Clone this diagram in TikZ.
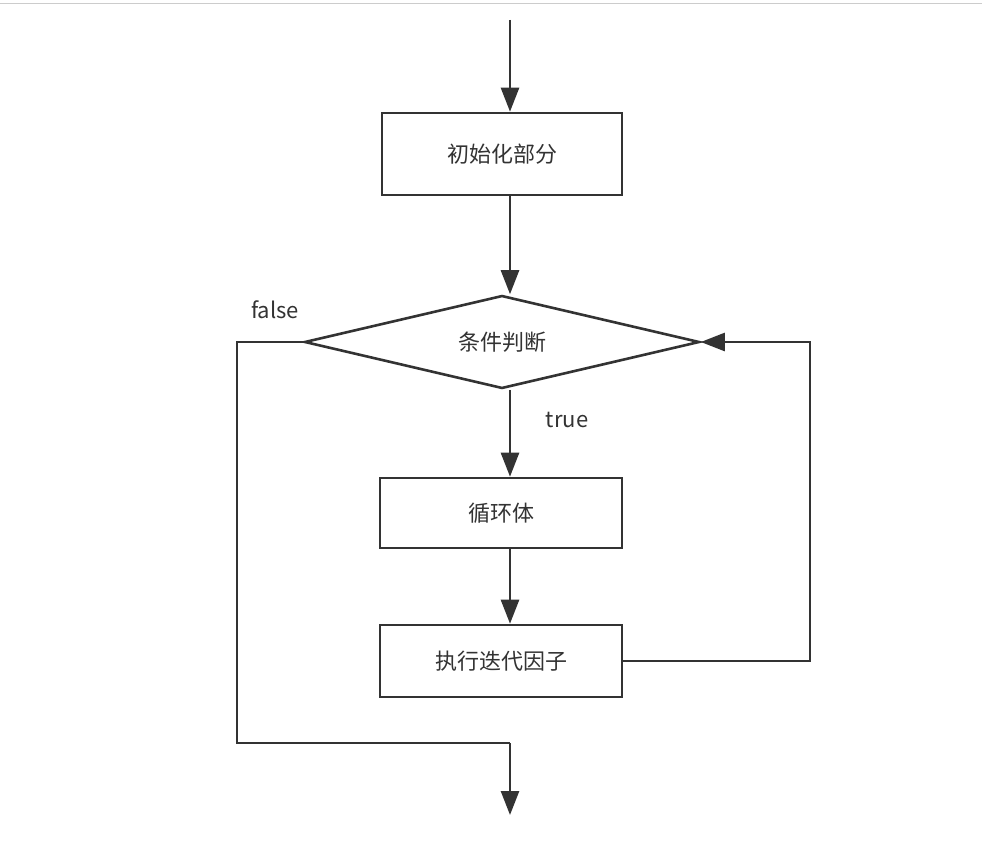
\documentclass[tikz,border=0pt]{standalone}
\usepackage{fontspec}
\setmainfont{Noto Sans CJK SC}
\usetikzlibrary{arrows.meta,shapes.geometric}
\begin{document}
\begin{tikzpicture}[x=1pt,y=-1pt,
  line width=2.6pt, color={black!80},
  arr/.style={-{Triangle[length=24pt,width=18pt]}},
  box/.style={draw,minimum width=240pt,minimum height=76pt,font=\fontsize{22}{26}\selectfont,inner sep=0pt},
  lbl/.style={font=\fontsize{22}{26}\selectfont}]
\useasboundingbox (0,0) rectangle (982,851);
\fill[white] (0,0) rectangle (982,851);
\draw[line width=1pt,black!20] (0,4) -- (982,4);
\coordinate (top) at (510,20);
\node[box,minimum height=82pt] (init) at (502,154) {初始化部分};
\node[draw,diamond,aspect=4.25,minimum width=395pt,minimum height=93pt,inner sep=0pt,font=\fontsize{22}{26}\selectfont] (cond) at (502,342) {条件判断};
\node[box,minimum width=242pt,minimum height=70pt] (body) at (501,513) {循环体};
\node[box,minimum width=242pt,minimum height=72pt] (iter) at (501,661) {执行迭代因子};
\node[lbl] (f) at (275,310) {false};
\node[lbl] (t) at (567,420) {true};
\coordinate (c1) at (237,342);
\coordinate (c2) at (237,743);
\coordinate (c3) at (510,743);
\coordinate (out) at (510,815);
\coordinate (r1) at (810,661);
\coordinate (r2) at (810,342);
\draw[arr] (top) -- (init.north -| top);
\draw[arr] (init.south -| top) -- (cond.north -| top);
\draw[arr] (cond.south -| top) -- (body.north -| top);
\draw[arr] (body.south -| top) -- (iter.north -| top);
\draw (cond.west) -- (c1) -- (c2) -- (c3);
\draw[arr] (c3) -- (out);
\draw[arr] (iter.east) -- (r1) -- (r2) -- (cond.east);
\end{tikzpicture}
\end{document}
